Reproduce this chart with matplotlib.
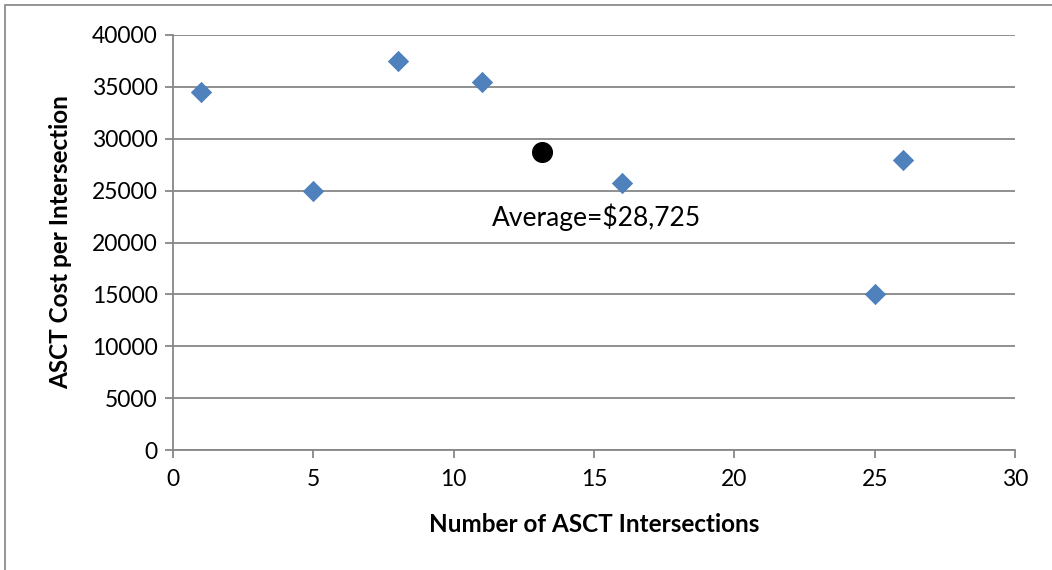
import matplotlib.pyplot as plt
from matplotlib.patches import Rectangle

# ASCT deployments: number of intersections vs. cost per intersection
intersections = [1, 5, 8, 11, 16, 25, 26]
cost_per_intersection = [34500, 25000, 37500, 35500, 25700, 15000, 28000]
average_cost = 28725
average_label = "Average=$28,725"

x_ticks = [0, 5, 10, 15, 20, 25, 30]
y_ticks = list(range(0, 40001, 5000))

plt.rcParams["font.family"] = ["Lato", "DejaVu Sans"]

fig = plt.figure(figsize=(10.52, 5.70), dpi=100)
ax = fig.add_axes([0.1645, 0.2105, 0.8003, 0.7281])

grid_color = "#878787"
ax.set_xlim(0, 30)
ax.set_ylim(0, 40000)
ax.set_xticks(x_ticks)
ax.set_yticks(y_ticks)
ax.yaxis.grid(True, color=grid_color, linewidth=1.3)
ax.set_axisbelow(True)

for side in ["top", "right"]:
    ax.spines[side].set_visible(False)
for side in ["left", "bottom"]:
    ax.spines[side].set_color(grid_color)
    ax.spines[side].set_linewidth(1.3)

ax.tick_params(axis="both", colors=grid_color, labelcolor="black", labelsize=16.5,
               width=1.3, length=6, direction="out")
ax.tick_params(axis="y", pad=5)
ax.tick_params(axis="x", pad=8)

ax.scatter(intersections, cost_per_intersection, marker="D", s=105,
           color="#4F81BD", edgecolor="#4A7EBB", linewidth=0.6, zorder=3)

mean_x = sum(intersections) / len(intersections)
ax.scatter([mean_x], [average_cost], marker="o", s=200, color="black", zorder=4)
ax.text(15.1, 22400, average_label, ha="center", va="center", fontsize=19)

ax.set_xlabel("Number of ASCT Intersections", fontsize=17.5, fontweight="bold", labelpad=16)
ax.set_ylabel("ASCT Cost per Intersection", fontsize=17.5, fontweight="bold", labelpad=14)

# thin frame around the chart area
fig.patches.append(Rectangle((0.005, -0.05), 1.1, 1.041, transform=fig.transFigure,
                             fill=False, edgecolor="#8c8c8c", linewidth=1.3))

fig.savefig("out.png", dpi=100)
